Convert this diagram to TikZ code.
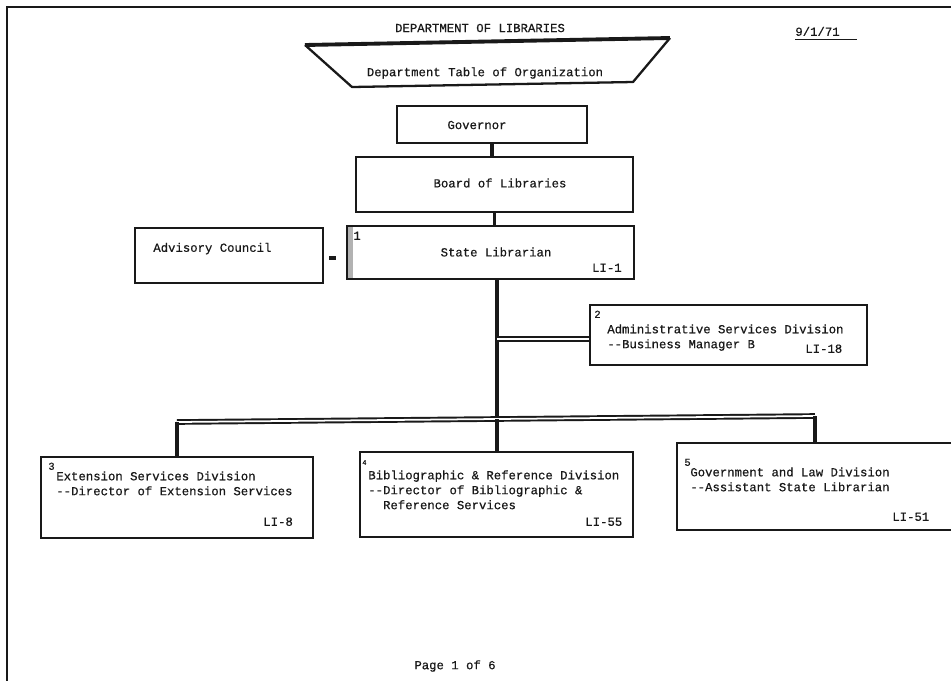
\documentclass[tikz,border=0pt]{standalone}
\usepackage{fontspec}
\setmonofont{Liberation Mono}[FakeBold=0.5]
\usetikzlibrary{fit}
\definecolor{ink}{gray}{0.1}
\begin{document}
\begin{tikzpicture}[x=0.02cm,y=-0.02cm,
  box/.style={draw=ink, line width=1.5pt, inner sep=0pt, fill=none},
  txt/.style={font=\ttfamily\fontsize{7}{8.5}\selectfont, text=ink, inner sep=0pt, align=left},
  num/.style={font=\ttfamily\fontsize{6}{6}\selectfont, text=ink, inner sep=0pt},
  trunk/.style={draw=ink, line width=2.6pt},
  bar/.style={draw=ink, double=white, double distance=1pt, line width=1.1pt},
  frame/.style={draw=ink, line width=0.9pt}]
\useasboundingbox[fill=white] (0,0) rectangle (951,681);
% page frame
\coordinate (ftl) at (7,7);
\coordinate (ftr) at (951,7);
\coordinate (fbl) at (7,681);
\draw[frame] (ftr) -- (ftl) -- (fbl);
% header
\node[txt, anchor=center] (hdr) at (480,28) {DEPARTMENT OF LIBRARIES};
\node[txt, anchor=mid west] (date) at (795,32) {9/1/71};
\draw[ink, line width=0.8pt] ([yshift=-2.2pt]date.base west) -- ++(62,0);
% title trapezoid
\coordinate (ttl) at (305,45);
\coordinate (ttr) at (670,38);
\coordinate (tbl) at (352,87);
\coordinate (tbr) at (633,82);
\draw[ink, line width=1.3pt, line join=round] (ttl) -- (tbl) -- (tbr) -- (ttr);
\draw[ink, line width=2.2pt] (ttl) -- (ttr);
\node[txt, anchor=center] (title) at (485,73) {Department Table of Organization};
% boxes
\node[box, fit={(397,106) (587,143)}] (gov) {};
\node[txt] (govt) at (477,125) {Governor};
\node[box, fit={(356,157) (633,212)}] (board) {};
\node[txt] (boardt) at (500,183) {Board of Libraries};
\fill[gray!60] (347,226) rectangle (353,279);
\node[box, fit={(347,226) (634,279)}] (state) {};
\node[txt] (statet) at (496,252) {State Librarian};
\node[txt, anchor=mid west] (staten) at (353,236) {1};
\node[txt, anchor=mid east] (statec) at (622,268) {LI-1};
\node[box, fit={(135,228) (323,283)}] (adv) {};
\node[txt, anchor=mid west] (advt) at (153,248) {Advisory Council};
\node[box, fit={(590,305) (867,365)}] (admin) {};
\node[num, anchor=mid west] (adminn) at (594,314) {2};
\node[txt, anchor=north west] (admint) at (607,324) {Administrative Services Division\\--Business Manager B};
\node[txt, anchor=mid west] (adminc) at (805,349) {LI-18};
\node[box, fit={(41,457) (313,538)}] (ext) {};
\node[num, anchor=mid west] (extn) at (48,466) {3};
\node[txt, anchor=north west] (extt) at (56,471) {Extension Services Division\\--Director of Extension Services};
\node[txt, anchor=mid west] (extc) at (263,522) {LI-8};
\node[box, fit={(360,452) (633,537)}] (bib) {};
\node[num, anchor=mid west, font=\ttfamily\fontsize{4}{4}\selectfont] (bibn) at (362,461) {4};
\node[txt, anchor=north west] (bibt) at (368,470) {Bibliographic \& Reference Division\\--Director of Bibliographic \&\\\hspace*{1.2em}Reference Services};
\node[txt, anchor=mid west] (bibc) at (585,522) {LI-55};
\node[box, fit={(677,443) (960,530)}] (govd) {};
\node[num, anchor=mid west] (govdn) at (684,462) {5};
\node[txt, anchor=north west] (govdt) at (690,467) {Government and Law Division\\--Assistant State Librarian};
\node[txt, anchor=mid west] (govdc) at (892,517) {LI-51};
% footer
\node[txt] (page) at (455,666) {Page 1 of 6};
% connectors
\draw[trunk, line width=2.2pt] (gov.south) -- (gov.south |- board.north);
\draw[trunk, line width=2.2pt] (board.south) -- (board.south |- state.north);
\coordinate (advj) at (323,258);
\draw[ink, line width=2.4pt, shorten <=3.5pt, shorten >=5.5pt] (advj) -- (advj -| state.west);
\coordinate (busL) at (177,422);
\coordinate (busM) at (497,419);
\coordinate (busR) at (815,416);
\coordinate (admj) at (497,339);
\draw[trunk] (state.south -| busM) -- (busM);
\draw[bar] (admj) -- (admj -| admin.west);
\draw[bar] (busL) -- (busR);
\draw[trunk] (busL) -- (busL |- ext.north);
\draw[trunk] (busM) -- (busM |- bib.north);
\draw[trunk] (busR) -- (busR |- govd.north);
\end{tikzpicture}
\end{document}
